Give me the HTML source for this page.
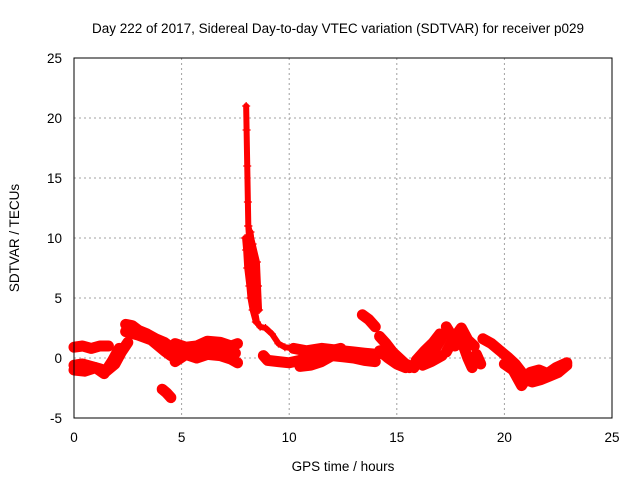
<!DOCTYPE html>
<html><head><meta charset="utf-8"><style>
body{margin:0;background:#fff}
svg text{font-family:"Liberation Sans",sans-serif;fill:#000}
</style></head><body>
<svg id="chart" width="640" height="480" xmlns="http://www.w3.org/2000/svg">
<text x="338" y="33" font-size="13.5" text-anchor="middle">Day 222 of 2017, Sidereal Day-to-day VTEC variation (SDTVAR) for receiver p029</text>
<text x="343" y="471" font-size="13.5" text-anchor="middle">GPS time / hours</text>
<text transform="translate(19,238) rotate(-90)" font-size="13.5" text-anchor="middle">SDTVAR / TECUs</text>
<g id="grid"></g>
<g id="marks"></g>
<rect x="74" y="58" width="538" height="360" fill="none" stroke="#000" stroke-width="1"/>
<g id="ticks"></g>
</svg>
<script>
const xTicks=[0,5,10,15,20,25];
const yTicks=[-5,0,5,10,15,20,25];
const tracks=[
[[0,0.9],[0.4,1.0],[0.8,0.8],[1.2,1.0],[1.6,1.0]],
[[0,-0.6],[0.4,-0.5],[0.8,-0.7],[1.2,-0.9],[1.5,-1.1],[1.9,-0.5],[2.2,0.5],[2.5,1.3]],
[[0,-1.0],[0.5,-1.1],[1.0,-0.8],[1.4,-1.3],[1.8,-0.2],[2.1,0.8]],
[[2.4,2.8],[2.7,2.7],[3.0,2.3],[3.4,2.0],[3.8,1.6],[4.2,1.3],[4.5,0.9]],
[[2.4,2.2],[3.0,1.9],[3.6,1.5],[4.2,0.6],[4.5,0.2]],
[[4.7,1.2],[5.2,0.9],[5.7,1.0],[6.2,1.4],[6.8,1.3],[7.3,1.0],[7.6,1.2]],
[[4.7,-0.3],[5.2,0.3],[5.7,0.0],[6.2,0.3],[6.8,0.2],[7.3,-0.1],[7.6,-0.4]],
[[4.7,0.4],[5.5,0.5],[6.5,0.6],[7.5,0.4]],
[[4.1,-2.6],[4.3,-2.9],[4.5,-3.3]],
[[8.0,21],[8.02,19],[8.05,16],[8.08,13],[8.1,11],[8.15,9.5],[8.2,8],[8.25,7],[8.3,6],[8.35,5],[8.4,4],[8.5,3],[8.65,2.6],[8.9,2.5],[9.2,2.0],[9.5,1.2],[9.8,0.9],[10.2,0.8]],
[[7.95,10],[8.0,9],[8.05,7.5],[8.15,6],[8.2,5],[8.3,4],[8.45,3]],
[[8.2,10.5],[8.3,9],[8.4,7.5],[8.45,6],[8.5,4.5]],
[[8.1,11],[8.3,9.5],[8.5,8],[8.55,6],[8.6,4]],
[[8.8,0.2],[9.0,-0.2],[9.5,-0.3],[10.0,-0.4],[10.5,-0.2],[11.0,0.1],[11.5,0.4],[12.4,0.8]],
[[10.2,0.8],[10.8,0.6],[11.5,0.8],[12,0.7],[12.5,0.6],[13,0.5],[13.5,0.4],[14.1,0.3]],
[[10.5,-0.7],[11,-0.6],[11.5,-0.3],[12,0.2],[12.5,0.1],[13,0.0],[13.5,-0.2],[14,-0.3]],
[[13.4,3.6],[13.7,3.2],[14.0,2.6]],
[[14.2,1.8],[14.5,1.2],[14.8,0.5],[15.1,0.0],[15.4,-0.5],[15.8,-0.8]],
[[14.2,0.6],[14.6,0.0],[15.0,-0.5],[15.4,-0.8]],
[[15.6,-0.8],[16.0,-0.5],[16.4,0.0],[16.8,0.8],[17.1,1.7]],
[[15.9,-0.2],[16.3,0.6],[16.7,1.3],[17.0,2.0]],
[[16.2,-0.6],[16.6,-0.3],[17.1,0.2]],
[[17.3,2.6],[17.5,2.0],[17.7,1.0],[17.9,1.8],[18.1,1.0],[18.3,0.0],[18.5,-0.8],[18.7,0.3],[18.9,-0.5]],
[[17.3,0.5],[17.6,1.5],[18.0,2.5],[18.3,1.5],[18.6,1.0]],
[[19.0,1.6],[19.4,1.2],[19.8,0.6],[20.2,0.0],[20.5,-0.5],[20.8,-1.2],[21.0,-1.8],[21.3,-2.0],[21.7,-1.8],[22.1,-1.5],[22.5,-1.2],[22.9,-0.6]],
[[20.0,-0.5],[20.4,-1.0],[20.8,-2.3],[21.2,-1.2],[21.6,-1.0],[22.0,-1.3],[22.4,-0.8],[22.9,-0.4]]
];
const NS='http://www.w3.org/2000/svg';
const X=t=>74+(t-0)*(538/25);
const Y=v=>418-(v+5)*(360/30);
function mk(tag,attrs,parent){const e=document.createElementNS(NS,tag);for(const k in attrs)e.setAttribute(k,attrs[k]);parent.appendChild(e);return e;}
const grid=document.getElementById('grid'),ticks=document.getElementById('ticks'),marks=document.getElementById('marks');
xTicks.forEach(t=>{
  if(t>0&&t<25){const g=mk('line',{x1:X(t),x2:X(t),y1:58,y2:418,stroke:'#a0a0a0','stroke-dasharray':'2,3'},grid);
  
  }
  const l=mk('text',{x:X(t),y:442,'font-size':'13.5','text-anchor':'middle'},ticks);l.textContent=t;
  
  
});
yTicks.forEach(v=>{
  if(v>-5&&v<25){const g=mk('line',{x1:74,x2:612,y1:Y(v),y2:Y(v),stroke:'#a0a0a0','stroke-dasharray':'2,3'},grid);
  
  }
  const l=mk('text',{x:62,y:Y(v)+5,'font-size':'13.5','text-anchor':'end'},ticks);l.textContent=v;
  
  
});
tracks.forEach((tr,i)=>{
  const pl=mk('polyline',{points:tr.map(p=>X(p[0])+','+Y(p[1])).join(' '),fill:'none',stroke:'#ff0000','stroke-width':i>=9&&i<=12?6:11,'stroke-linecap':'round','stroke-linejoin':'round'},marks);
  
  
  tr.forEach(p=>{
    const x=X(p[0]),y=Y(p[1]);
    const m=mk('path',{d:`M${x-4},${y}H${x+4}M${x},${y-4}V${y+4}`,stroke:'#ff0000','stroke-width':1.2},marks);
    
    
  });
});
</script>
</body></html>
